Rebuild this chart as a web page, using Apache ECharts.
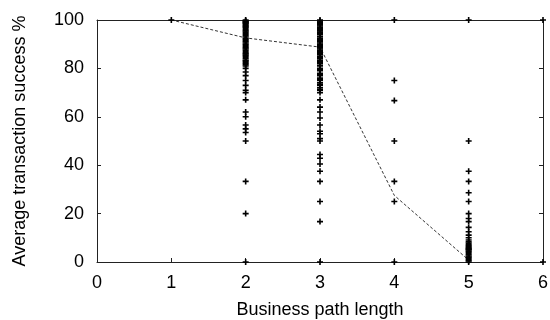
<!DOCTYPE html>
<html>
<head>
<meta charset="utf-8">
<script src="https://cdn.jsdelivr.net/npm/echarts@6/dist/echarts.min.js"></script>
<style>
  html, body { margin: 0; padding: 0; background: #fff; }
  #chart { width: 550px; height: 320px; }
</style>
</head>
<body>
<div id="chart"></div>
<script>
// success % of individual transactions, grouped by business path length
const pathLengths = [1, 2, 3, 4, 5, 6];
const successLen1 = [100];
const successLen2 = [100, 99.7, 99.5, 99.2, 99, 98.7, 98.5, 98, 97.6, 97.2, 97, 96.5, 96, 95.5, 95, 94.4, 94,
  93.5, 93, 92.3, 92, 91.4, 91, 90.5, 90, 89.5, 89, 88.5, 88, 87.5, 87, 86.4, 86, 85.5, 85, 84.5, 84, 83.3,
  83, 82.4, 82, 81.5, 81, 80, 78.5, 77, 75, 73, 71, 70, 67, 62, 60, 56.6, 55, 53.5, 50, 33.3, 20, 0];
const successLen3 = [100, 99.6, 99.2, 99, 98.5, 98, 97.5, 97, 96.6, 96, 95.5, 95, 94.4, 94, 93.3, 93, 92.3,
  92, 91.5, 91, 90.5, 90, 89.5, 89, 88.5, 88, 87.5, 87, 86.5, 86, 85.7, 85, 84.6, 84, 83.3, 83, 82.4, 82,
  81.3, 81, 80, 79.5, 79, 78, 77.4, 77, 76, 75.5, 75, 74, 73.3, 73, 72, 71.4, 71, 70, 67, 64, 62, 59.5,
  56.6, 54, 53, 51, 50, 44.4, 42.9, 40.5, 37.5, 33.3, 25, 16.7, 0];
const successLen4 = [100, 75, 66.7, 50, 33.3, 25, 0];
const successLen5 = [100, 50, 37.5, 33.3, 28.6, 25, 20, 18, 16.7, 14.3, 12.5, 11.1, 10, 9.1, 8.3, 7.7, 7.1,
  6.7, 6.3, 5.9, 5.6, 5.3, 5, 4.5, 4, 3.5, 3, 2.5, 2, 1.5, 1, 0.5, 0];
const successLen6 = [100, 0];
// average per path length (dashed line)
const avgLengths = [1, 2, 3, 4, 5];
const avgSuccess = [100, 92.6, 88.8, 27.5, 0.8];

const yTicks = [0, 20, 40, 60, 80, 100];
const xTicks = [0, 1, 2, 3, 4, 5, 6];

const groups = [successLen1, successLen2, successLen3, successLen4, successLen5, successLen6];
const points = [];
groups.forEach(function (vals, i) {
  vals.forEach(function (v) { points.push([pathLengths[i], v]); });
});

const PLUS = "path://M2.2,0H3.8V2.2H6V3.8H3.8V6H2.2V3.8H0V2.2H2.2Z";
const FONT = "Liberation Sans";
const axisCol = "#222";

const chart = echarts.init(document.getElementById("chart"), null, { renderer: "canvas" });
chart.setOption({
  animation: false,
  backgroundColor: "#fff",
  grid: { left: 97, right: 7, top: 20, bottom: 58, containLabel: false, outerBoundsMode: "none" },
  xAxis: [{
    type: "value",
    min: xTicks[0], max: xTicks[xTicks.length - 1], interval: 1,
    name: "Business path length",
    nameLocation: "middle",
    nameGap: 39,
    nameTextStyle: { fontFamily: FONT, fontSize: 18, color: "#000" },
    axisLine: { show: true, onZero: false, lineStyle: { color: axisCol, width: 1 } },
    axisTick: { show: true, inside: true, length: 4, lineStyle: { color: axisCol } },
    axisLabel: { fontFamily: FONT, fontSize: 18, color: "#000", margin: 12 },
    splitLine: { show: false }
  }, {
    type: "value", position: "top",
    min: xTicks[0], max: xTicks[xTicks.length - 1], interval: 1,
    axisLine: { show: true, onZero: false, lineStyle: { color: axisCol, width: 1 } },
    axisTick: { show: false },
    axisLabel: { show: false },
    splitLine: { show: false }
  }],
  yAxis: [{
    type: "value",
    min: yTicks[0], max: yTicks[yTicks.length - 1], interval: 20,
    name: "Average transaction success %",
    nameLocation: "middle",
    nameGap: 68,
    nameRotate: 90,
    nameTextStyle: { fontFamily: FONT, fontSize: 18, color: "#000" },
    axisLine: { show: true, onZero: false, lineStyle: { color: axisCol, width: 1 } },
    axisTick: { show: true, inside: true, length: 4, lineStyle: { color: axisCol } },
    axisLabel: { fontFamily: FONT, fontSize: 18, color: "#000", margin: 13 },
    splitLine: { show: false }
  }, {
    type: "value", position: "right",
    min: yTicks[0], max: yTicks[yTicks.length - 1], interval: 20,
    axisLine: { show: true, onZero: false, lineStyle: { color: axisCol, width: 1 } },
    axisTick: { show: true, inside: true, length: 4, lineStyle: { color: axisCol } },
    axisLabel: { show: false },
    splitLine: { show: false }
  }],
  series: [{
    type: "line",
    data: avgLengths.map(function (x, i) { return [x, avgSuccess[i]]; }),
    showSymbol: false,
    symbol: "none",
    lineStyle: { color: "#333", width: 1, type: [3, 2] },
    z: 1
  }, {
    type: "scatter",
    data: points,
    symbol: PLUS,
    symbolSize: 6,
    itemStyle: { color: "#000", opacity: 1 },
    clip: false,
    z: 2
  }]
});
</script>
</body>
</html>
